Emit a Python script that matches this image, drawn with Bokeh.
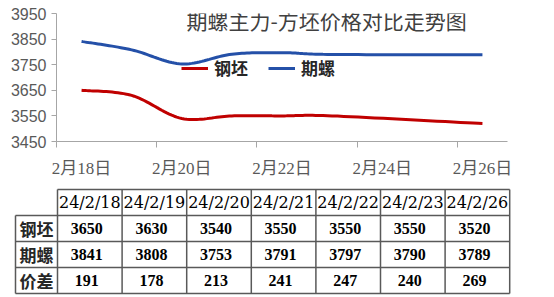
from bokeh.plotting import figure
from bokeh.models import (Range1d, FixedTicker, Legend, LegendItem, Label)
from bokeh.layouts import column, row
from bokeh.embed import file_html
from bokeh.resources import INLINE
from bokeh.core.properties import value

# ---------------- data ----------------
dates = ["24/2/18", "24/2/19", "24/2/20", "24/2/21", "24/2/22", "24/2/23", "24/2/26"]
billet = [3650, 3630, 3540, 3550, 3550, 3550, 3520]   # 钢坯
rebar = [3841, 3808, 3753, 3791, 3797, 3790, 3789]    # 期螺
spread = [191, 178, 213, 241, 247, 240, 269]          # 价差
series_names = ["钢坯", "期螺"]
row_names = ["钢坯", "期螺", "价差"]
tick_days = [18, 20, 22, 24, 26]
tick_labels = ["2月18日", "2月20日", "2月22日", "2月24日", "2月26日"]
y_ticks = [3450, 3550, 3650, 3750, 3850, 3950]
title_text = "期螺主力-方坯价格对比走势图"

RED = "#C00000"
BLUE = "#2450A8"
CJK = "'Noto Sans CJK SC'"
SERIF_CJK = "'Liberation Serif', 'Noto Sans CJK SC'"

day0 = 18
xs = [int(d.split("/")[2]) - day0 + 0.5 for d in dates]


def smooth(x, y, n=20):
    # Catmull-Rom style bezier smoothing (like spreadsheet smoothed lines)
    px, py = [], []
    m = len(x)
    for i in range(m - 1):
        x0, y0 = (x[i - 1], y[i - 1]) if i > 0 else (x[i], y[i])
        x1, y1 = x[i], y[i]
        x2, y2 = x[i + 1], y[i + 1]
        x3, y3 = (x[i + 2], y[i + 2]) if i + 2 < m else (x2, y2)
        c1x, c1y = x1 + (x2 - x0) / 6, y1 + (y2 - y0) / 6
        c2x, c2y = x2 - (x3 - x1) / 6, y2 - (y3 - y1) / 6
        for k in range(n + (1 if i == m - 2 else 0)):
            t = k / n
            a, b, c, d = (1 - t) ** 3, 3 * (1 - t) ** 2 * t, 3 * (1 - t) * t ** 2, t ** 3
            px.append(a * x1 + b * c1x + c * c2x + d * x2)
            py.append(a * y1 + b * c1y + c * c2y + d * y2)
    return px, py


# ---------------- chart ----------------
p = figure(width=554, height=180, output_backend="svg", toolbar_location=None,
           x_range=Range1d(0, 9), y_range=Range1d(3450, 3950),
           min_border_left=56, min_border_right=47, min_border_top=13, min_border_bottom=37)
p.outline_line_color = None
p.xgrid.grid_line_color = None
p.ygrid.grid_line_color = None
p.background_fill_color = "white"

bx, by = smooth(xs, billet)
rx, ry = smooth(xs, rebar)
r1 = p.line(bx, by, line_color=RED, line_width=3)
r2 = p.line(rx, ry, line_color=BLUE, line_width=3)

# y axis
ya = p.yaxis[0]
ya.ticker = FixedTicker(ticks=y_ticks)
ya.axis_line_color = "#A6A6A6"
ya.major_tick_line_color = "#A6A6A6"
ya.major_tick_out = 5
ya.major_tick_in = 0
ya.minor_tick_line_color = None
ya.major_label_text_font = "Liberation Sans"
ya.major_label_text_font_size = "16px"
ya.major_label_text_color = "#595959"
ya.major_label_standoff = 5

# x axis: labels centred in day slots, tick marks at slot boundaries
xa = p.xaxis[0]
label_pos = [d - day0 + 0.5 for d in tick_days]
xa.ticker = FixedTicker(ticks=label_pos, minor_ticks=[d - day0 for d in tick_days])
xa.major_label_overrides = {pos: lab for pos, lab in zip(label_pos, tick_labels)}
xa.axis_line_color = "#A6A6A6"
xa.major_tick_line_color = None
xa.major_tick_out = 0
xa.major_tick_in = 0
xa.minor_tick_line_color = "#A6A6A6"
xa.minor_tick_out = 6
xa.minor_tick_in = 0
xa.major_label_text_font = SERIF_CJK
xa.major_label_text_font_size = "17px"
xa.major_label_text_color = "#595959"
xa.major_label_standoff = 11

# title inside plot area
p.add_layout(Label(x=5.39, y=3923, text=title_text, text_font=CJK, text_font_size="21px",
                   text_color="#404040", text_align="center", text_baseline="middle"))

legend = Legend(items=[LegendItem(label=series_names[0], renderers=[r1]),
                       LegendItem(label=series_names[1], renderers=[r2])],
                location=(125, 61), orientation="horizontal",
                background_fill_alpha=0, border_line_color=None,
                glyph_width=27, glyph_height=18, label_standoff=6, spacing=20,
                padding=0, margin=0, label_text_font=CJK, label_text_font_size="17px",
                label_text_font_style="bold", label_text_color="#262626")
p.add_layout(legend)

# ---------------- table (data space == page pixels) ----------------
t = figure(width=554, height=117, output_backend="svg", toolbar_location=None,
           x_range=Range1d(0, 554), y_range=Range1d(117, 0), min_border=0)
t.axis.visible = False
t.grid.visible = False
t.outline_line_color = None

ncol = len(dates)
x_left, x_first, col_w = 15, 57, 64.6
row_y = [9, 35, 61, 87, 113]
x_edges = [x_first + i * col_w for i in range(ncol + 1)]
x_right = x_edges[-1]

sx0, sy0, sx1, sy1 = [], [], [], []
sx0.append(x_first); sy0.append(row_y[0]); sx1.append(x_right); sy1.append(row_y[0])
for yv in row_y[1:]:
    sx0.append(x_left); sy0.append(yv); sx1.append(x_right); sy1.append(yv)
sx0.append(x_left); sy0.append(row_y[1]); sx1.append(x_left); sy1.append(row_y[-1])
for xv in x_edges:
    sx0.append(xv); sy0.append(row_y[0]); sx1.append(xv); sy1.append(row_y[-1])
t.segment(sx0, sy0, sx1, sy1, line_color="#595959", line_width=1.5)

centers = [x_first + (i + 0.5) * col_w for i in range(ncol)]
t.text(x=centers, y=[(row_y[0] + row_y[1]) / 2] * ncol, text=dates,
       text_font=value("DejaVu Serif"), text_font_size="16px", text_color="black",
       text_align="center", text_baseline="middle")

for r, vals in enumerate([billet, rebar, spread]):
    yc = (row_y[r + 1] + row_y[r + 2]) / 2
    t.text(x=[c - 3 for c in centers], y=[yc] * ncol, text=[str(v) for v in vals],
           text_font=value("Liberation Serif"), text_font_size="16px", text_font_style="bold",
           text_color="black", text_align="center", text_baseline="middle")
    t.text(x=[(x_left + x_first) / 2], y=[yc], text=[row_names[r]],
           text_font=value("Noto Sans CJK SC"), text_font_size="17px", text_font_style="bold",
           text_color="#262626", text_align="center", text_baseline="middle")

layout = column(row(p), row(t), spacing=0)
open("out.html", "w").write(file_html(layout, INLINE))
